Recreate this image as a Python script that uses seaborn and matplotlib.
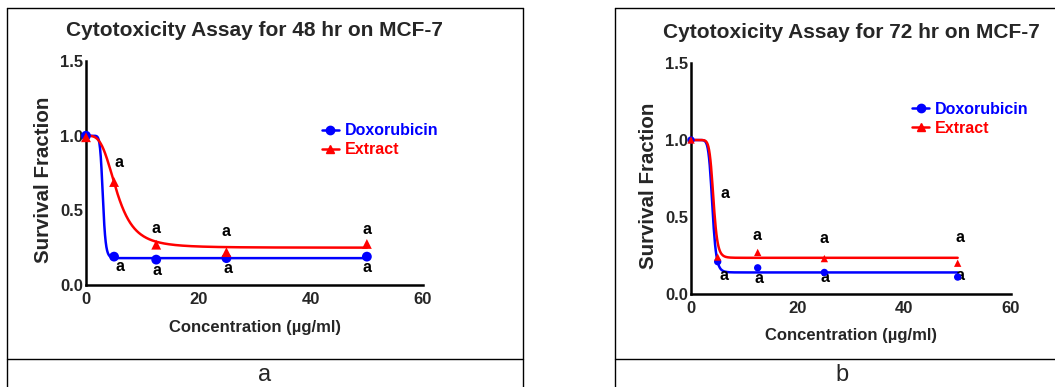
import numpy as np
import pandas as pd
import matplotlib
matplotlib.use("Agg")
import matplotlib.pyplot as plt
import seaborn as sns
from matplotlib.lines import Line2D

# concentrations (ug/ml)
conc = [0, 5, 12.5, 25, 50]

# survival fraction, 48 hr
dox_48 = [1.00, 0.19, 0.17, 0.18, 0.19]
ext_48 = [0.99, 0.69, 0.27, 0.22, 0.275]

# survival fraction, 72 hr
dox_72 = [1.00, 0.21, 0.17, 0.14, 0.11]
ext_72 = [1.00, 0.24, 0.27, 0.23, 0.20]

# fitted dose-response parameters: top, bottom, ic50, hill
fit_dox_48 = [1.0, 0.18, 3.0, 12]
fit_ext_48 = [1.0, 0.25, 5.5, 3.5]
fit_dox_72 = [1.0, 0.14, 4.0, 11]
fit_ext_72 = [1.0, 0.235, 4.2, 11]

# significance letters: (x, y) above extract / below doxorubicin
letters_48 = [(5.9, 0.82), (12.5, 0.38), (25, 0.36), (50, 0.375),
              (6.0, 0.125), (12.7, 0.10), (25.2, 0.11), (50, 0.12)]
letters_72 = [(6.4, 0.65), (12.4, 0.38), (25, 0.36), (50.4, 0.37),
              (6.2, 0.12), (12.7, 0.10), (25.1, 0.11), (50.4, 0.12)]

colors = {"Doxorubicin": "#0000ff", "Extract": "#ff0000"}
markers = {"Doxorubicin": "o", "Extract": "^"}

sns.set_style("white")
plt.rcParams["font.family"] = ["Liberation Sans", "DejaVu Sans"]


def curva(p, x):
    top, bottom, ic50, hill = p
    return bottom + (top - bottom) / (1 + (x / ic50) ** hill)


def painel(fig, rect, titulo, dox, ext, fit_dox, fit_ext, letras, msize, title_y,
           ylab_x, xlab_y, leg_anchor):
    ax = fig.add_axes(rect)
    pontos = pd.DataFrame({
        "Conc": conc * 2,
        "Surv": dox + ext,
        "Trat": ["Doxorubicin"] * len(conc) + ["Extract"] * len(conc),
    })
    xs = np.linspace(0, 50, 400)
    curvas = pd.DataFrame({
        "Conc": np.concatenate([xs, xs]),
        "Surv": np.concatenate([curva(fit_dox, xs), curva(fit_ext, xs)]),
        "Trat": ["Doxorubicin"] * len(xs) + ["Extract"] * len(xs),
    })
    sns.lineplot(data=curvas, x="Conc", y="Surv", hue="Trat", palette=colors,
                 linewidth=1.8, legend=False, ax=ax, clip_on=False)
    sns.scatterplot(data=pontos, x="Conc", y="Surv", hue="Trat", style="Trat",
                    markers=markers, palette=colors, s=msize, edgecolor="none",
                    legend=False, ax=ax, clip_on=False, zorder=5)
    for (x, y) in letras:
        ax.text(x, y, "a", ha="center", va="center", fontsize=11.5,
                fontweight="bold", color="black")

    ax.set_xlim(0, 60)
    ax.set_ylim(0, 1.5)
    ax.set_xticks([0, 20, 40, 60])
    ax.set_yticks([0.0, 0.5, 1.0, 1.5])
    ax.set_yticklabels(["0.0", "0.5", "1.0", "1.5"])
    ax.set_xlabel("")
    ax.set_ylabel("")
    for s in ["top", "right"]:
        ax.spines[s].set_visible(False)
    for s in ["left", "bottom"]:
        ax.spines[s].set_linewidth(1.8)
        ax.spines[s].set_color("black")
    ax.tick_params(axis="both", direction="out", length=4, width=1.8,
                   labelsize=12, pad=1, color="black")
    ax.tick_params(axis="y", pad=-2)
    for lb in ax.get_xticklabels() + ax.get_yticklabels():
        lb.set_fontweight("bold")

    cx = rect[0] + rect[2] / 2
    fig.text(cx, title_y, titulo, ha="center", va="center", fontsize=15,
             fontweight="bold")
    fig.text(ylab_x, rect[1] + rect[3] * 0.47, "Survival Fraction", rotation=90,
             ha="center", va="center", fontsize=14.8, fontweight="bold")
    fig.text(cx, xlab_y, "Concentration (\u00b5g/ml)", ha="center", va="center",
             fontsize=12, fontweight="bold")

    handles = [Line2D([], [], color=colors[t], marker=markers[t], markersize=6,
                      linewidth=1.8, label=t) for t in ["Doxorubicin", "Extract"]]
    leg = ax.legend(handles=handles, loc="upper left", bbox_to_anchor=leg_anchor,
                    frameon=False, handlelength=1.1, handletextpad=0.35,
                    labelspacing=0.25, prop={"weight": "bold", "size": 11.5},
                    borderaxespad=0)
    for txt, t in zip(leg.get_texts(), ["Doxorubicin", "Extract"]):
        txt.set_color(colors[t])
    return ax


fig = plt.figure(figsize=(10.55, 3.87), dpi=100)

painel(fig, [0.0815, 0.2636, 0.3195, 0.5784],
       "Cytotoxicity Assay for 48 hr on MCF-7", dox_48, ext_48,
       fit_dox_48, fit_ext_48, letters_48, 50, 0.922, 0.041, 0.155, (0.68, 0.75))
painel(fig, [0.655, 0.2403, 0.3033, 0.5969],
       "Cytotoxicity Assay for 72 hr on MCF-7", dox_72, ext_72,
       fit_dox_72, fit_ext_72, letters_72, 28, 0.917, 0.615, 0.132, (0.67, 0.86))

# table frame around the two panels
H = 387.0
W = 1055.0
def linha(x0, y0, x1, y1):
    fig.add_artist(Line2D([x0 / W, x1 / W], [1 - y0 / H, 1 - y1 / H],
                          color="black", linewidth=1.0))

linha(7, 8, 523, 8)
linha(7, 8, 7, 387)
linha(523, 8, 523, 387)
linha(7, 359, 523, 359)
linha(615, 8, 1055, 8)
linha(615, 8, 615, 387)
linha(615, 359, 1055, 359)

fig.text(265 / W, 1 - 375 / H, "a", ha="center", va="center", fontsize=17)
fig.text(842 / W, 1 - 375 / H, "b", ha="center", va="center", fontsize=17)

fig.savefig("out.png", dpi=100)
